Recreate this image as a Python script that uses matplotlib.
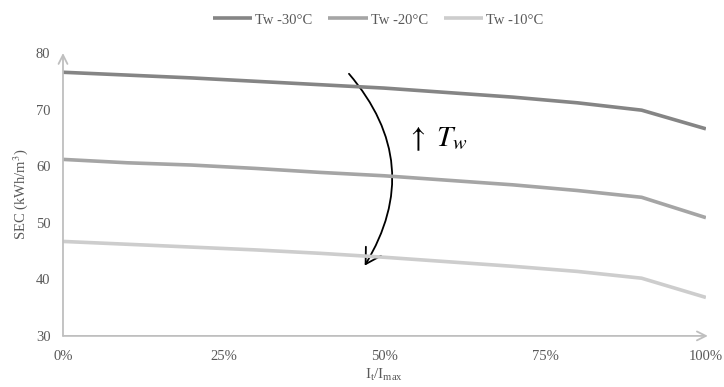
import numpy as np
import matplotlib
matplotlib.use('Agg')
import matplotlib.pyplot as plt
from matplotlib.patches import FancyArrowPatch

plt.rcParams['font.family'] = ['Liberation Serif', 'DejaVu Serif']
plt.rcParams['mathtext.fontset'] = 'stix'

# data
load_pct = [0, 10, 20, 30, 40, 50, 60, 70, 80, 90, 100]
sec_30 = [76.6, 76.1, 75.6, 75.0, 74.4, 73.8, 73.0, 72.2, 71.2, 69.9, 66.6]
sec_20 = [61.2, 60.6, 60.2, 59.6, 58.9, 58.3, 57.5, 56.7, 55.7, 54.5, 50.9]
sec_10 = [46.7, 46.2, 45.7, 45.2, 44.6, 43.9, 43.1, 42.3, 41.4, 40.2, 36.8]
series_names = ['Tw -30°C', 'Tw -20°C', 'Tw -10°C']
x_ticks = [0, 25, 50, 75, 100]
x_ticklabels = ['0%', '25%', '50%', '75%', '100%']
y_ticks = [30, 40, 50, 60, 70, 80]

colors = ['#858585', '#a5a5a5', '#cdcdcd']
txt = '#595959'
axis_c = '#bfbfbf'

fig = plt.figure(figsize=(7.24, 3.87), dpi=100)
ax = fig.add_axes([0.087, 0.132, 0.888, 0.731])

for ys, c, name in zip([sec_30, sec_20, sec_10], colors, series_names):
    ax.plot(load_pct, ys, color=c, lw=2.6, solid_capstyle='butt', label=name)

ax.set_xlim(0, 100)
ax.set_ylim(30, 80)
ax.set_xticks(x_ticks)
ax.set_xticklabels(x_ticklabels)
ax.set_yticks(y_ticks)
ax.tick_params(length=0, labelsize=10.5, colors=txt)
ax.tick_params(axis='x', pad=10)
ax.tick_params(axis='y', pad=9)
for s in ax.spines.values():
    s.set_visible(False)

# axes drawn as arrows
ax.annotate('', xy=(0, 80), xytext=(0, 30), xycoords='data',
            arrowprops=dict(arrowstyle='->', color=axis_c, lw=1.3,
                            mutation_scale=16, shrinkA=0, shrinkB=0),
            annotation_clip=False)
ax.annotate('', xy=(100.3, 30), xytext=(0, 30), xycoords='data',
            arrowprops=dict(arrowstyle='->', color=axis_c, lw=1.3,
                            mutation_scale=16, shrinkA=0, shrinkB=0),
            annotation_clip=False)

ax.set_ylabel('SEC (kWh/m$^3$)', fontsize=10.5, color=txt, labelpad=4)
ax.set_xlabel(r'$\mathregular{I_t/I_{max}}$', fontsize=11, color=txt, labelpad=3)

# curved arrow and T_w note
arc = FancyArrowPatch((44.2, 76.7), (46.7, 42.0), connectionstyle='arc3,rad=-0.37',
                      arrowstyle='->,head_width=0.35,head_length=0.6',
                      mutation_scale=18, color='black', lw=1.3)
ax.add_patch(arc)
ax.text(53.3, 64.7, r'$\uparrow\ T_w$', fontsize=21, color='black', va='center')

ax.legend(loc='center', bbox_to_anchor=(0.49, 1.117), ncol=3, frameon=False,
          fontsize=10.5, labelcolor=txt, handlelength=2.7, columnspacing=1.1,
          handletextpad=0.2)

fig.savefig('out.png', dpi=100)
